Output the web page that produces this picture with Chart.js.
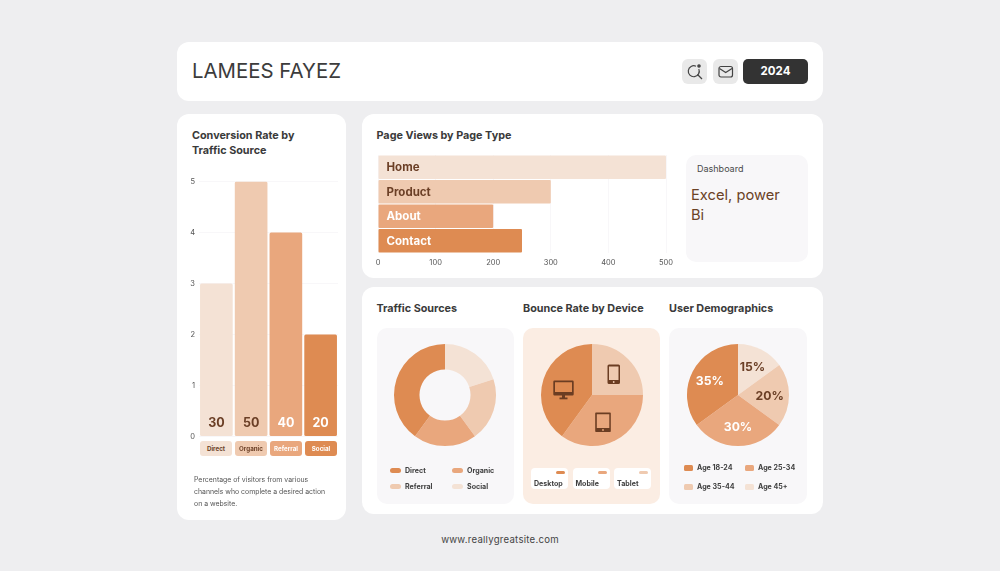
<!DOCTYPE html>
<html>
<head>
<meta charset="utf-8">
<script src="https://cdn.jsdelivr.net/npm/chart.js@4"></script>
<style>
html, body { margin: 0; padding: 0; }
body { width: 1000px; height: 571px; background: #eeeef0; overflow: hidden; position: relative; font-family: Inter, sans-serif; color: #3a3a3a; }
.abs, canvas, .card { position: absolute; }
canvas { display: block; }
.card { background: #fff; border-radius: 12px; }
.heading { position: absolute; font-size: 10.8px; font-weight: 700; line-height: 15px; color: #3a3a3a; white-space: nowrap; }
.chip { position: absolute; top: 441px; height: 15px; line-height: 15px; border-radius: 3px; text-align: center; font-size: 6.2px; font-weight: 700; }
.lg { position: absolute; font-size: 7.1px; font-weight: 700; line-height: 10px; white-space: nowrap; color: #3f3f3f; }
.sw { position: absolute; }
.devchip { position: absolute; top: 468px; width: 37px; height: 21px; background: #fff; border-radius: 4px; }
</style>
</head>
<body>
<div class="card" style="left:177px;top:42px;width:646px;height:59px"></div>
<div class="card" style="left:177px;top:114px;width:169px;height:406px"></div>
<div class="card" style="left:362px;top:114px;width:461px;height:164px"></div>
<div class="card" style="left:362px;top:287px;width:461px;height:227px"></div>

<div class="abs" style="left:192px;top:57px;font-size:20.4px;line-height:28px;color:#3c3c3c;white-space:nowrap">LAMEES FAYEZ</div>
<div class="abs" style="left:682px;top:59px;width:25px;height:25px;background:#e9e9e9;border-radius:6px"></div>
<svg class="abs" style="left:682px;top:59px" width="25" height="25" fill="none" stroke="#444" stroke-width="1.2">
  <path d="M14 7.200 A5.500 5.500 0 1 0 16.800 10"/><line x1="15.500" y1="15.500" x2="20" y2="20"/><circle cx="17" cy="7" r="1.200" fill="#444"/>
</svg>
<div class="abs" style="left:713px;top:59px;width:25px;height:25px;background:#e9e9e9;border-radius:6px"></div>
<svg class="abs" style="left:713px;top:59px" width="25" height="25" fill="none" stroke="#444" stroke-width="1.2">
  <rect x="6" y="7.500" width="13.500" height="10.500" rx="2"/><path d="M6.500 9.500 L12.700 13.500 L19 9.500"/>
</svg>
<div class="abs" style="left:743px;top:59px;width:65px;height:25px;line-height:25px;background:#333;border-radius:5px;color:#fff;text-align:center;font-size:11.5px;font-weight:700">2024</div>

<div class="heading" style="left:192px;top:128px">Conversion Rate by<br>Traffic Source</div>
<canvas id="conversionChart" width="155" height="272" style="left:185px;top:173px"></canvas>
<div id="conversionChips"></div>
<div class="abs" style="left:194px;top:474px;font-size:6.9px;line-height:12.2px;color:#555;white-space:nowrap">Percentage of visitors from various<br>channels who complete a desired action<br>on a website.</div>

<div class="heading" style="left:376.500px;top:128px">Page Views by Page Type</div>
<canvas id="pageViewsChart" width="310" height="118" style="left:370px;top:150px"></canvas>
<div class="abs" style="left:686px;top:155px;width:122px;height:107px;background:#f8f7f9;border-radius:10px"></div>
<div class="abs" style="left:697px;top:163px;font-size:9px;line-height:12px;color:#4a4a4a">Dashboard</div>
<div class="abs" style="left:691px;top:184.500px;font-size:14.700px;line-height:20px;color:#6b4226">Excel, power<br>Bi</div>

<div class="heading" style="left:376.500px;top:301px">Traffic Sources</div>
<div class="heading" style="left:523px;top:301px">Bounce Rate by Device</div>
<div class="heading" style="left:669px;top:301px">User Demographics</div>

<div class="abs" style="left:377px;top:328px;width:137px;height:176px;background:#f8f7f9;border-radius:10px"></div>
<div class="abs" style="left:523px;top:328px;width:137px;height:176px;background:#fbede3;border-radius:10px"></div>
<div class="abs" style="left:669px;top:328px;width:138px;height:176px;background:#f8f7f9;border-radius:10px"></div>

<canvas id="trafficChart" width="104" height="104" style="left:393px;top:343px"></canvas>
<canvas id="bounceChart" width="104" height="104" style="left:539.500px;top:343px"></canvas>
<canvas id="demoChart" width="104" height="104" style="left:686px;top:343px"></canvas>

<svg class="abs" style="left:552.500px;top:380px" width="22" height="20" fill="#6b3d22">
  <path fill-rule="evenodd" d="M1.500 0.500h18a1.200 1.200 0 0 1 1.200 1.200v12.600a1.200 1.200 0 0 1-1.200 1.200h-18a1.200 1.200 0 0 1-1.200-1.200V1.700a1.200 1.200 0 0 1 1.200-1.200z M2 2.200v9.800h17V2.200z"/>
  <rect x="9" y="15" width="3" height="3"/><rect x="6.500" y="17.500" width="8" height="1.800"/>
</svg>
<svg class="abs" style="left:606.500px;top:364px" width="14" height="21" fill="#6b3d22">
  <path fill-rule="evenodd" d="M2 0.500h9.500a1.500 1.500 0 0 1 1.500 1.500v16.500a1.500 1.500 0 0 1-1.500 1.500H2a1.500 1.500 0 0 1-1.500-1.500V2A1.500 1.500 0 0 1 2 0.500z M2 2.500v13.500h9.500V2.500z"/>
  <circle cx="6.700" cy="18" r="0.900" fill="#efcab0"/>
</svg>
<svg class="abs" style="left:594.500px;top:412px" width="17" height="21" fill="#6b3d22">
  <path fill-rule="evenodd" d="M1 0.500h14a0.800 0.800 0 0 1 0.800 0.800v18a0.800 0.800 0 0 1-0.800 0.800H1a0.800 0.800 0 0 1-0.800-0.800v-18A0.800 0.800 0 0 1 1 0.500z M1.800 2.200v13.800h12.500V2.200z"/>
  <circle cx="8" cy="18" r="0.900" fill="#e9a77d"/>
</svg>

<div id="trafficLegend"></div>
<div id="bounceLegend"></div>
<div id="demoLegend"></div>

<div class="abs" style="left:300px;width:400px;top:533.500px;text-align:center;font-size:9.600px;line-height:12px;letter-spacing:0.25px;color:#444">www.reallygreatsite.com</div>

<script>
// Conversion rate
const conversionSources = ['Direct', 'Organic', 'Referral', 'Social'];
const conversionValues = [3, 5, 4, 2];
const conversionLabels = ['30', '50', '40', '20'];

// Page views
const pageTypes = ['Home', 'Product', 'About', 'Contact'];
const pageViews = [500, 300, 200, 250];

// Traffic sources, clockwise from the top
const trafficSources = ['Social', 'Referral', 'Organic', 'Direct'];
const trafficValues = [20, 20, 20, 40];

// Bounce rate, clockwise from the top
const bounceDevices = ['Tablet', 'Mobile', 'Desktop'];
const bounceValues = [25, 35, 40];

// Demographics, clockwise from the top
const ageGroups = ['Age 45+', 'Age 35-44', 'Age 25-34', 'Age 18-24'];
const ageValues = [15, 20, 30, 35];

const LIGHTEST = '#f4e2d5';
const LIGHT = '#efcab0';
const MID = '#e9a77d';
const DARK = '#de8b52';
const BROWN = '#6b3f26';
const GRID = '#f8f7f9';
const FONT = 'Inter, sans-serif';

Chart.defaults.font.family = FONT;
Chart.defaults.animation = false;
Chart.defaults.responsive = false;
Chart.defaults.plugins.legend.display = false;
Chart.defaults.plugins.tooltip.enabled = false;

// Value text at the foot of each column
const columnLabels = {
  id: 'columnLabels',
  afterDatasetsDraw(chart) {
    const ctx = chart.ctx;
    const base = chart.scales.y.getPixelForValue(0);
    ctx.save();
    ctx.font = '700 12.5px ' + FONT;
    ctx.textAlign = 'center';
    ctx.textBaseline = 'middle';
    chart.getDatasetMeta(0).data.forEach((bar, i) => {
      ctx.fillStyle = i < 2 ? BROWN : '#fff';
      ctx.fillText(conversionLabels[i], bar.x, base - 13);
    });
    ctx.restore();
  }
};

// Page name inside each horizontal bar
const rowLabels = {
  id: 'rowLabels',
  afterDatasetsDraw(chart) {
    const ctx = chart.ctx;
    const left = chart.scales.x.getPixelForValue(0);
    ctx.save();
    ctx.font = '700 11.5px ' + FONT;
    ctx.textBaseline = 'middle';
    chart.getDatasetMeta(0).data.forEach((bar, i) => {
      ctx.fillStyle = i < 2 ? BROWN : '#fff';
      ctx.fillText(pageTypes[i], left + 8.5, bar.y + 0.5);
    });
    ctx.restore();
  }
};

// Percent text on the demographics slices
const sliceLabels = {
  id: 'sliceLabels',
  afterDatasetsDraw(chart) {
    const ctx = chart.ctx;
    ctx.save();
    ctx.font = '700 12.2px ' + FONT;
    ctx.textAlign = 'center';
    ctx.textBaseline = 'middle';
    chart.getDatasetMeta(0).data.forEach((arc, i) => {
      const mid = (arc.startAngle + arc.endAngle) / 2;
      const r = arc.outerRadius * 0.62;
      ctx.fillStyle = i < 2 ? BROWN : '#fff';
      ctx.fillText(ageValues[i] + '%', arc.x + Math.cos(mid) * r, arc.y + Math.sin(mid) * r + 1);
    });
    ctx.restore();
  }
};

new Chart(document.getElementById('conversionChart'), {
  type: 'bar',
  data: {
    labels: conversionSources,
    datasets: [{
      data: conversionValues,
      backgroundColor: [LIGHTEST, LIGHT, MID, DARK],
      borderRadius: 1.5,
      borderSkipped: false,
      categoryPercentage: 1,
      barPercentage: 0.94
    }]
  },
  options: {
    layout: { padding: { top: 2, right: 2, bottom: 7, left: 0 }, autoPadding: false },
    scales: {
      x: { display: false },
      y: {
        min: 0, max: 5,
        afterFit(axis) { axis.width = 14; },
        border: { display: false },
        grid: { color: GRID, drawTicks: false },
        ticks: { stepSize: 1, padding: 4, color: '#555', font: { size: 7.5 } }
      }
    }
  },
  plugins: [columnLabels]
});

new Chart(document.getElementById('pageViewsChart'), {
  type: 'bar',
  data: {
    labels: pageTypes,
    datasets: [{
      data: pageViews,
      backgroundColor: [LIGHTEST, LIGHT, MID, DARK],
      borderRadius: 1,
      borderSkipped: false,
      categoryPercentage: 1,
      barPercentage: 0.96
    }]
  },
  options: {
    indexAxis: 'y',
    layout: { padding: { top: 5, right: 14, bottom: 0, left: 8 }, autoPadding: false },
    scales: {
      y: { display: false },
      x: {
        min: 0, max: 500,
        afterFit(axis) { axis.height = 15; },
        border: { display: false },
        grid: { color: GRID, drawTicks: false },
        ticks: { stepSize: 100, padding: 5, maxRotation: 0, color: '#555', font: { size: 7.5 } }
      }
    }
  },
  plugins: [rowLabels]
});

function makeRound(id, type, labels, values, colors, plugins) {
  new Chart(document.getElementById(id), {
    type: type,
    data: { labels: labels, datasets: [{ data: values, backgroundColor: colors, borderWidth: 0 }] },
    options: { cutout: type === 'doughnut' ? '50%' : 0, layout: { padding: 1 } },
    plugins: plugins || []
  });
}

makeRound('trafficChart', 'doughnut', trafficSources, trafficValues, [LIGHTEST, LIGHT, MID, DARK]);
makeRound('bounceChart', 'pie', bounceDevices, bounceValues, [LIGHT, MID, DARK]);
makeRound('demoChart', 'pie', ageGroups, ageValues, [LIGHTEST, LIGHT, MID, DARK], [sliceLabels]);

// HTML pieces around the charts
function addDiv(parentId, className, css, text) {
  const el = document.createElement('div');
  el.className = className;
  el.style.cssText = css;
  if (text) el.textContent = text;
  document.getElementById(parentId).appendChild(el);
}

const chipX = [200, 235, 270, 305];
const chipColors = [LIGHTEST, LIGHT, MID, DARK];
conversionSources.forEach((name, i) => {
  addDiv('conversionChips', 'chip',
    `left:${chipX[i]}px;width:32px;background:${chipColors[i]};color:${i < 2 ? BROWN : '#fff'}`, name);
});

// Traffic legend
[['Direct', DARK, 390, 470], ['Organic', MID, 452, 470], ['Referral', LIGHT, 390, 486], ['Social', LIGHTEST, 452, 486]]
  .forEach(([name, color, x, y]) => {
    addDiv('trafficLegend', 'sw', `left:${x}px;top:${y - 2.5}px;width:11px;height:5px;border-radius:2.5px;background:${color}`);
    addDiv('trafficLegend', 'lg', `left:${x + 15}px;top:${y - 4.5}px`, name);
  });

// Device chips
[['Desktop', DARK, 531], ['Mobile', MID, 572.500], ['Tablet', LIGHT, 614]]
  .forEach(([name, color, x]) => {
    addDiv('bounceLegend', 'devchip', `left:${x}px`);
    addDiv('bounceLegend', 'sw', `left:${x + 25}px;top:471px;width:9px;height:3px;border-radius:1.5px;background:${color}`);
    addDiv('bounceLegend', 'lg', `left:${x + 3}px;top:478.500px`, name);
  });

// Age legend
[['Age 18-24', DARK, 684, 468], ['Age 25-34', MID, 745, 468], ['Age 35-44', LIGHT, 684, 487], ['Age 45+', LIGHTEST, 745, 487]]
  .forEach(([name, color, x, y]) => {
    addDiv('demoLegend', 'sw', `left:${x}px;top:${y - 3}px;width:9px;height:6px;border-radius:1.5px;background:${color}`);
    addDiv('demoLegend', 'lg', `left:${x + 13}px;top:${y - 5}px`, name);
  });
</script>
</body>
</html>
